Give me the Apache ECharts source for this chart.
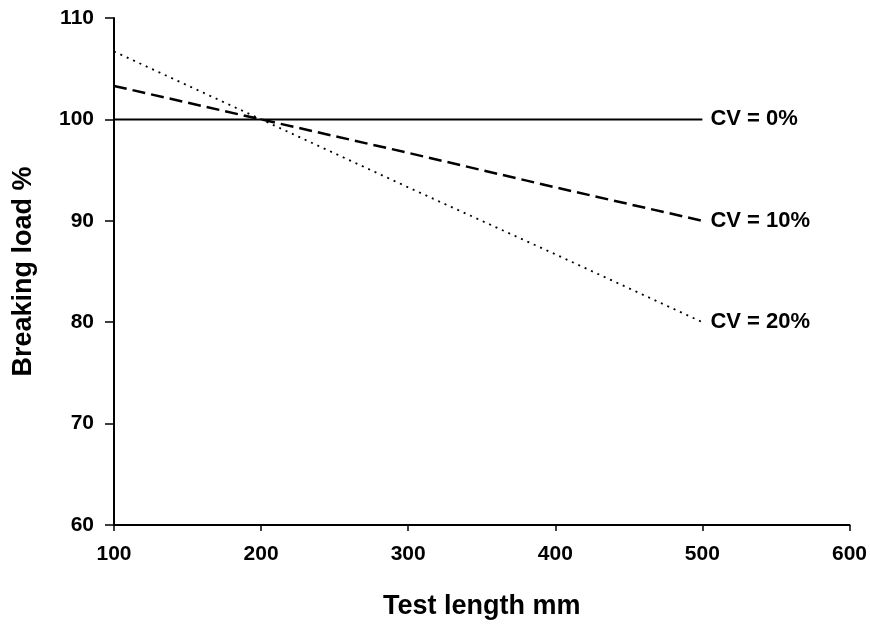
<!DOCTYPE html>
<html>
<head>
<meta charset="utf-8">
<script src="https://cdn.jsdelivr.net/npm/echarts@6/dist/echarts.min.js"></script>
<style>
  html, body { margin: 0; padding: 0; background: #fff; }
  #chart { width: 870px; height: 625px; }
</style>
</head>
<body>
<div id="chart"></div>
<script>
// Test lengths (mm) at which breaking load is given
const testLength = [100, 200, 300, 400, 500];
// Breaking load (% of the 200 mm value) for each coefficient of variation
const cv0 = [100, 100, 100, 100, 100];
const cv10 = [103.3, 100, 96.7, 93.3, 90];
const cv20 = [106.7, 100, 93.3, 86.7, 80];
const seriesNames = ['CV = 0%', 'CV = 10%', 'CV = 20%'];

const font = 'Liberation Sans, Arial, Helvetica, sans-serif';
const pairs = ys => testLength.map((x, i) => [x, ys[i]]);

function makeSeries(name, ys, lineType, width) {
  return {
    name: name,
    type: 'line',
    data: pairs(ys),
    symbol: 'none',
    silent: true,
    lineStyle: { color: '#000', width: width, type: lineType },
    endLabel: {
      show: true,
      formatter: '{a}',
      distance: 8,
      color: '#000',
      fontFamily: font,
      fontWeight: 'bold',
      fontSize: 22
    }
  };
}

const chart = echarts.init(document.getElementById('chart'), null, { renderer: 'canvas' });
chart.setOption({
  animation: false,
  backgroundColor: '#fff',
  grid: { left: 114, right: 20, top: 18, bottom: 99 },
  xAxis: {
    type: 'value',
    min: 100, max: 600, interval: 100,
    name: 'Test length mm',
    nameLocation: 'middle',
    nameGap: 68,
    nameTextStyle: { color: '#000', fontFamily: font, fontWeight: 'bold', fontSize: 27 },
    axisLine: { show: true, lineStyle: { color: '#000', width: 2 } },
    axisTick: { show: true, length: 6, lineStyle: { color: '#000', width: 1.5 } },
    axisLabel: { margin: 19, color: '#000', fontFamily: font, fontWeight: 'bold', fontSize: 21 },
    splitLine: { show: false }
  },
  yAxis: {
    type: 'value',
    min: 60, max: 110, interval: 10,
    name: 'Breaking load %',
    nameLocation: 'middle',
    nameGap: 77,
    nameTextStyle: { color: '#000', fontFamily: font, fontWeight: 'bold', fontSize: 27 },
    axisLine: { show: true, lineStyle: { color: '#000', width: 2 } },
    axisTick: { show: true, length: 9, lineStyle: { color: '#000', width: 1.5 } },
    axisLabel: { margin: 20, color: '#000', fontFamily: font, fontWeight: 'bold', fontSize: 21 },
    splitLine: { show: false }
  },
  series: [
    makeSeries(seriesNames[0], cv0, 'solid', 2),
    makeSeries(seriesNames[1], cv10, [13, 6], 2.5),
    makeSeries(seriesNames[2], cv20, [2, 5], 1.8)
  ]
});
</script>
</body>
</html>
